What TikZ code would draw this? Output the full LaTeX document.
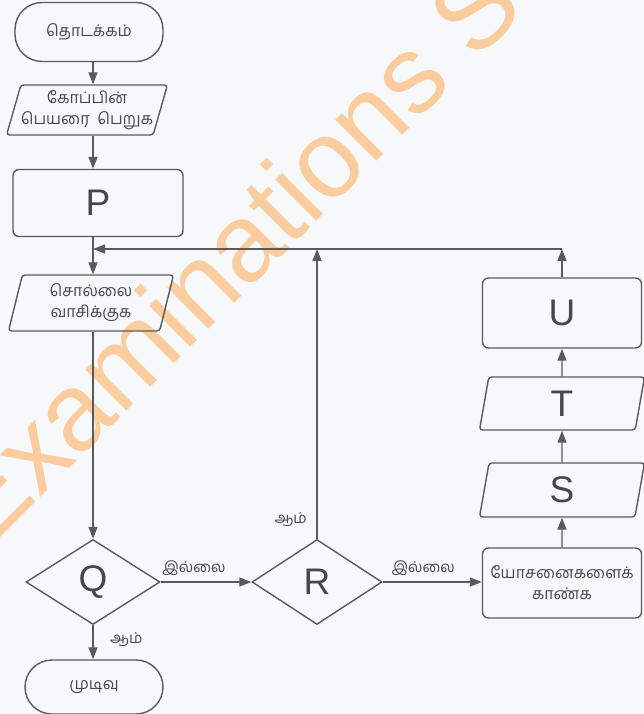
\documentclass[tikz,border=0pt]{standalone}
\usepackage{fontspec}
\setmainfont{Liberation Sans}
\newfontfamily\tamil[Script=Tamil]{Hind Madurai}
\usetikzlibrary{shapes.geometric,arrows.meta,calc}
\definecolor{ln}{HTML}{5A5A5A}
\definecolor{tx}{HTML}{474747}
\definecolor{bg}{HTML}{F6F8FA}
\definecolor{wm}{RGB}{250,204,158}
\tikzset{
  base/.style={draw=ln, line width=1.4pt, text=tx, align=center, inner sep=0pt},
  term/.style={base, rectangle, rounded corners=27pt, font=\tamil\fontsize{16}{19}\selectfont},
  io/.style={base, trapezium, trapezium left angle=70, trapezium right angle=110,
    trapezium stretches body, rounded corners=3pt, font=\tamil\fontsize{16}{21}\selectfont},
  proc/.style={base, rectangle, rounded corners=6pt, font=\tamil\fontsize{16}{21}\selectfont},
  dec/.style={base, diamond},
  big/.style={font=\fontsize{37}{40}\selectfont},
  lbl/.style={text=tx, inner sep=0pt, font=\tamil\fontsize{15}{17}\selectfont},
  arr/.style={draw=ln, line width=1.4pt, -{Triangle[length=12pt,width=9pt]}}
}
\begin{document}
\begin{tikzpicture}[x=1pt,y=-1pt]
\fill[bg] (0,0) rectangle (644,714);
\useasboundingbox (0,0) rectangle (644,714);
\begin{scope}
\clip (0,0) rectangle (644,714);
\node[text=wm, font=\fontsize{110}{110}\selectfont, rotate=45, anchor=base west, inner sep=0pt] (wmark) at (-13,551) {Examinations S};
\end{scope}

\coordinate (mainx) at (93,0);
\coordinate (join) at (93,249);

\node[term, minimum width=148pt, minimum height=59pt] (start) at (89,32) {தொடக்கம்};
\node[io, minimum width=153pt, minimum height=50pt] (in1) at (87,110) {கோப்பின்\\பெயரை\ \ பெறுக};
\node[proc, big, minimum width=170pt, minimum height=67pt] (P) at (98,203) {P};
\node[io, minimum width=165pt, minimum height=56pt] (in2) at (91,303) {சொல்லை\\வாசிக்குக};
\node[dec, big, minimum width=134pt, minimum height=85pt] (Q) at (93,582) {Q};
\node[term, minimum width=138pt, minimum height=54pt] (endt) at (94,687) {முடிவு};
\node[dec, big, minimum width=130pt, minimum height=85pt] (R) at (317,582) {R};
\node[proc, minimum width=159pt, minimum height=70pt] (hint) at (562,583) {யோசனைகளைக்\\காண்க};
\node[io, big, minimum width=165pt, minimum height=54pt] (S) at (562,490) {S};
\node[io, big, minimum width=165pt, minimum height=53pt] (T) at (562,403.5) {T};
\node[proc, big, minimum width=159pt, minimum height=70pt] (U) at (562,313) {U};
\coordinate (corner) at (U.north |- join);

\draw[arr] (start.south -| mainx) -- (in1.north -| mainx);
\draw[arr] (in1.south -| mainx) -- (P.north -| mainx);
\draw[arr] (P.south -| mainx) -- (in2.north -| mainx);
\draw[arr] (in2.south -| mainx) -- (Q.north);
\draw[arr] (Q.south) -- (endt.north -| Q.south);
\node[lbl, anchor=west] (yes1) at ([xshift=17pt,yshift=-14pt]Q.south) {ஆம்};
\draw[arr] (Q.east) -- (R.west);
\node[lbl, anchor=south] (no1) at ([xshift=-12pt,yshift=6pt]$(Q.east)!0.5!(R.west)$) {இல்லை};
\draw[arr] (R.east) -- (hint.west |- R.east);
\node[lbl, anchor=south] (no2) at ([xshift=-9pt,yshift=6pt]$(R.east)!0.5!(hint.west |- R.east)$) {இல்லை};
\draw[arr] (R.north) -- (R.north |- join);
\node[lbl, anchor=east] (yes2) at ([xshift=-10pt,yshift=19pt]R.north) {ஆம்};
\draw[arr] (hint.north) -- (S.south);
\draw[arr] (S.north) -- (T.south);
\draw[arr] (T.north) -- (U.south);
\draw[arr] (U.north) -- (corner);
\draw[arr] (corner) -- (join);
\end{tikzpicture}
\end{document}
